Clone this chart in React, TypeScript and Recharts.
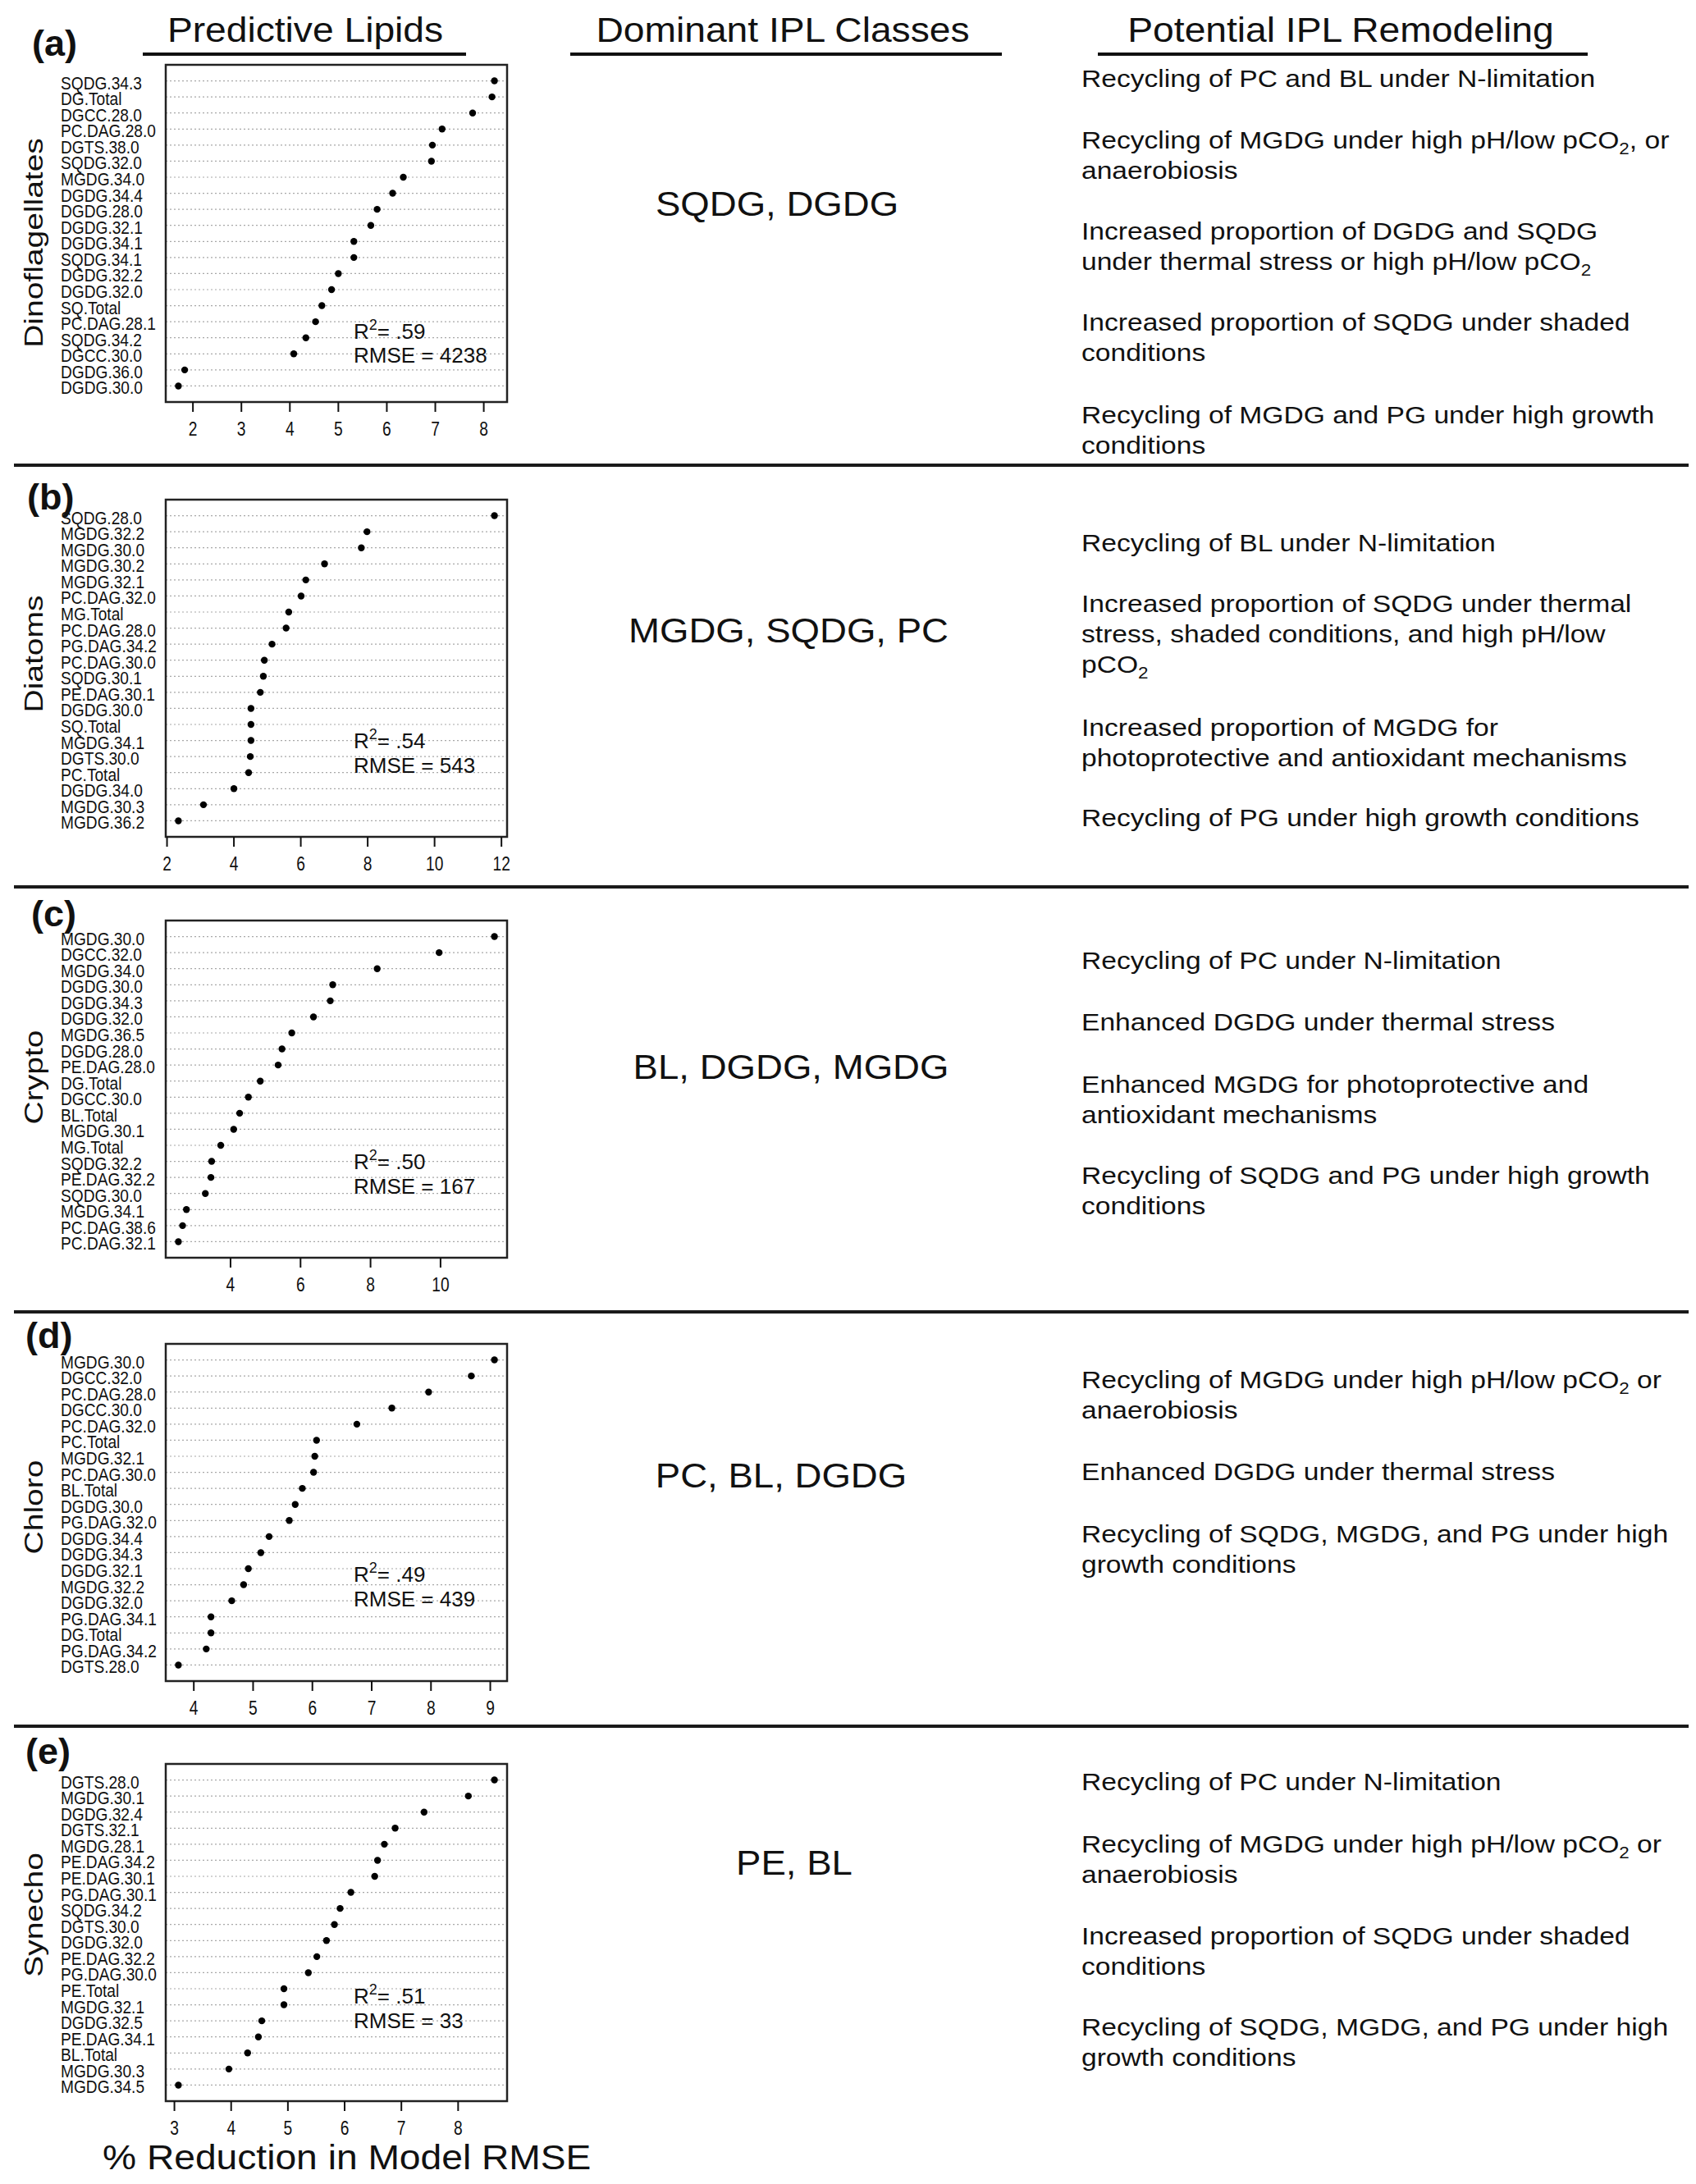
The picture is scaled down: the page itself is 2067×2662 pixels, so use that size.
import React from "react";
import { ScatterChart, Scatter, XAxis, YAxis, CartesianGrid, ReferenceArea } from "recharts";

const FONT = "'Liberation Sans', Arial, Helvetica, sans-serif";

// (a) Dinoflagellates
const DINO_LIPIDS = ["SQDG.34.3", "DG.Total", "DGCC.28.0", "PC.DAG.28.0", "DGTS.38.0", "SQDG.32.0", "MGDG.34.0", "DGDG.34.4", "DGDG.28.0", "DGDG.32.1", "DGDG.34.1", "SQDG.34.1", "DGDG.32.2", "DGDG.32.0", "SQ.Total", "PC.DAG.28.1", "SQDG.34.2", "DGCC.30.0", "DGDG.36.0", "DGDG.30.0"];
const DINO_REDUCTION = [8.22, 8.17, 7.77, 7.14, 6.94, 6.92, 6.34, 6.12, 5.8, 5.67, 5.32, 5.32, 5.0, 4.86, 4.66, 4.53, 4.33, 4.08, 1.83, 1.7];
const DINO_TICKS = [2, 3, 4, 5, 6, 7, 8];
const DINO_CLASSES = "SQDG, DGDG";
const DINO_REMODELING = [
  ["Recycling of PC and BL under N-limitation"],
  ["Recycling of MGDG under high pH/low pCO₂, or", "anaerobiosis"],
  ["Increased proportion of DGDG and SQDG", "under thermal stress or high pH/low pCO₂"],
  ["Increased proportion of SQDG under shaded", "conditions"],
  ["Recycling of MGDG and PG under high growth", "conditions"],
];

// (b) Diatoms
const DIATOM_LIPIDS = ["SQDG.28.0", "MGDG.32.2", "MGDG.30.0", "MGDG.30.2", "MGDG.32.1", "PC.DAG.32.0", "MG.Total", "PC.DAG.28.0", "PG.DAG.34.2", "PC.DAG.30.0", "SQDG.30.1", "PE.DAG.30.1", "DGDG.30.0", "SQ.Total", "MGDG.34.1", "DGTS.30.0", "PC.Total", "DGDG.34.0", "MGDG.30.3", "MGDG.36.2"];
const DIATOM_REDUCTION = [11.79, 7.98, 7.81, 6.71, 6.15, 6.01, 5.64, 5.56, 5.14, 4.91, 4.88, 4.79, 4.51, 4.51, 4.51, 4.49, 4.44, 4.0, 3.09, 2.34];
const DIATOM_TICKS = [2, 4, 6, 8, 10, 12];
const DIATOM_CLASSES = "MGDG, SQDG, PC";
const DIATOM_REMODELING = [
  ["Recycling of BL under N-limitation"],
  ["Increased proportion of SQDG under thermal", "stress, shaded conditions, and high pH/low", "pCO₂"],
  ["Increased proportion of MGDG for", "photoprotective and antioxidant mechanisms"],
  ["Recycling of PG under high growth conditions"],
];

// (c) Crypto
const CRYPTO_LIPIDS = ["MGDG.30.0", "DGCC.32.0", "MGDG.34.0", "DGDG.30.0", "DGDG.34.3", "DGDG.32.0", "MGDG.36.5", "DGDG.28.0", "PE.DAG.28.0", "DG.Total", "DGCC.30.0", "BL.Total", "MGDG.30.1", "MG.Total", "SQDG.32.2", "PE.DAG.32.2", "SQDG.30.0", "MGDG.34.1", "PC.DAG.38.6", "PC.DAG.32.1"];
const CRYPTO_REDUCTION = [11.54, 9.96, 8.19, 6.92, 6.85, 6.37, 5.75, 5.47, 5.36, 4.85, 4.51, 4.26, 4.09, 3.72, 3.46, 3.44, 3.28, 2.74, 2.63, 2.51];
const CRYPTO_TICKS = [4, 6, 8, 10];
const CRYPTO_CLASSES = "BL, DGDG, MGDG";
const CRYPTO_REMODELING = [
  ["Recycling of PC under N-limitation"],
  ["Enhanced DGDG under thermal stress"],
  ["Enhanced MGDG for photoprotective and", "antioxidant mechanisms"],
  ["Recycling of SQDG and PG under high growth", "conditions"],
];

// (d) Chloro
const CHLORO_LIPIDS = ["MGDG.30.0", "DGCC.32.0", "PC.DAG.28.0", "DGCC.30.0", "PC.DAG.32.0", "PC.Total", "MGDG.32.1", "PC.DAG.30.0", "BL.Total", "DGDG.30.0", "PG.DAG.32.0", "DGDG.34.4", "DGDG.34.3", "DGDG.32.1", "MGDG.32.2", "DGDG.32.0", "PG.DAG.34.1", "DG.Total", "PG.DAG.34.2", "DGTS.28.0"];
const CHLORO_REDUCTION = [9.07, 8.68, 7.96, 7.34, 6.75, 6.07, 6.04, 6.02, 5.83, 5.71, 5.61, 5.27, 5.13, 4.92, 4.84, 4.64, 4.29, 4.29, 4.21, 3.74];
const CHLORO_TICKS = [4, 5, 6, 7, 8, 9];
const CHLORO_CLASSES = "PC, BL, DGDG";
const CHLORO_REMODELING = [
  ["Recycling of MGDG under high pH/low pCO₂ or", "anaerobiosis"],
  ["Enhanced DGDG under thermal stress"],
  ["Recycling of SQDG, MGDG, and PG under high", "growth conditions"],
];

// (e) Synecho
const SYNECHO_LIPIDS = ["DGTS.28.0", "MGDG.30.1", "DGDG.32.4", "DGTS.32.1", "MGDG.28.1", "PE.DAG.34.2", "PE.DAG.30.1", "PG.DAG.30.1", "SQDG.34.2", "DGTS.30.0", "DGDG.32.0", "PE.DAG.32.2", "PG.DAG.30.0", "PE.Total", "MGDG.32.1", "DGDG.32.5", "PE.DAG.34.1", "BL.Total", "MGDG.30.3", "MGDG.34.5"];
const SYNECHO_REDUCTION = [8.64, 8.18, 7.4, 6.89, 6.7, 6.58, 6.53, 6.11, 5.92, 5.82, 5.68, 5.51, 5.36, 4.93, 4.93, 4.54, 4.48, 4.29, 3.96, 3.07];
const SYNECHO_TICKS = [3, 4, 5, 6, 7, 8];
const SYNECHO_CLASSES = "PE, BL";
const SYNECHO_REMODELING = [
  ["Recycling of PC under N-limitation"],
  ["Recycling of MGDG under high pH/low pCO₂ or", "anaerobiosis"],
  ["Increased proportion of SQDG under shaded", "conditions"],
  ["Recycling of SQDG, MGDG, and PG under high", "growth conditions"],
];

const PANELS = [
  { tag: "(a)", group: "Dinoflagellates", lipids: DINO_LIPIDS, values: DINO_REDUCTION, ticks: DINO_TICKS, r2: ".59", rmse: "4238", classes: DINO_CLASSES, remodeling: DINO_REMODELING },
  { tag: "(b)", group: "Diatoms", lipids: DIATOM_LIPIDS, values: DIATOM_REDUCTION, ticks: DIATOM_TICKS, r2: ".54", rmse: "543", classes: DIATOM_CLASSES, remodeling: DIATOM_REMODELING },
  { tag: "(c)", group: "Crypto", lipids: CRYPTO_LIPIDS, values: CRYPTO_REDUCTION, ticks: CRYPTO_TICKS, r2: ".50", rmse: "167", classes: CRYPTO_CLASSES, remodeling: CRYPTO_REMODELING },
  { tag: "(d)", group: "Chloro", lipids: CHLORO_LIPIDS, values: CHLORO_REDUCTION, ticks: CHLORO_TICKS, r2: ".49", rmse: "439", classes: CHLORO_CLASSES, remodeling: CHLORO_REMODELING },
  { tag: "(e)", group: "Synecho", lipids: SYNECHO_LIPIDS, values: SYNECHO_REDUCTION, ticks: SYNECHO_TICKS, r2: ".51", rmse: "33", classes: SYNECHO_CLASSES, remodeling: SYNECHO_REMODELING },
];

// page layout (pixels), one entry per panel
const LAYOUT = [
  { boxTop: 79, tag: [39, 68], groupY: 296, stat: [413, 442], classes: [947, 263], blocks: [106, 181, 292, 403, 516] },
  { boxTop: 609, tag: [33, 621], groupY: 797, stat: [912, 942], classes: [961, 783], blocks: [672, 746, 897, 1007] },
  { boxTop: 1122, tag: [38, 1129], groupY: 1313, stat: [1425, 1455], classes: [964, 1315], blocks: [1181, 1256, 1332, 1443] },
  { boxTop: 1638, tag: [31, 1643], groupY: 1837, stat: [1928, 1958], classes: [952, 1813], blocks: [1692, 1804, 1880] },
  { boxTop: 2150, tag: [31, 2150], groupY: 2334, stat: [2442, 2472], classes: [968, 2285], blocks: [2182, 2258, 2370, 2481] },
];
const SEPARATORS = [567, 1081, 1599, 2104];

const BOX_LEFT = 202;
const BOX_W = 416;
const BOX_H = 411;
const CHART_W = 640;

function LipidTick({ y, payload, labels }: any) {
  const label = labels[labels.length - payload.value];
  return (
    <g transform={`translate(74,${y}) scale(0.87,1)`}>
      <text x={0} y={10} textAnchor="start" fontFamily={FONT} fontSize={22} fill="#111">
        {label}
      </text>
    </g>
  );
}

function ValueTick({ x, y, payload }: any) {
  return (
    <g transform={`translate(${x},${y}) scale(0.8,1)`}>
      <text x={0} y={27} textAnchor="middle" fontFamily={FONT} fontSize={24} fill="#111">
        {payload.value}
      </text>
    </g>
  );
}

const Dot = (p: any) => <circle cx={p.cx} cy={p.cy} r={4.2} fill="#000" />;

function LipidPanel({ panel, boxTop }: { panel: any; boxTop: number }) {
  const { lipids, values, ticks } = panel;
  const n = lipids.length;
  const lo = Math.min(...values);
  const hi = Math.max(...values);
  const pad = (hi - lo) * 0.04;
  const domain = [lo - pad, hi + pad];
  const rows = values.map((v: number, i: number) => ({ x: v, y: n - i, name: lipids[i] }));
  const rowTicks = rows.map((r: any) => r.y).reverse();
  return (
    <div style={{ position: "absolute", left: 0, top: boxTop - 10 }}>
      <ScatterChart
        width={CHART_W}
        height={BOX_H + 70}
        margin={{ top: 10, right: CHART_W - BOX_LEFT - BOX_W, bottom: 10, left: BOX_LEFT - 150 }}
      >
        <CartesianGrid vertical={false} stroke="#a8a8a8" strokeDasharray="2 3" strokeWidth={1.2} />
        <XAxis
          type="number"
          dataKey="x"
          domain={domain}
          ticks={ticks}
          interval={0}
          height={50}
          axisLine={false}
          tickSize={12}
          tickLine={{ stroke: "#111", strokeWidth: 2 }}
          tick={<ValueTick />}
        />
        <YAxis
          type="number"
          dataKey="y"
          domain={[0, n + 1]}
          ticks={rowTicks}
          interval={0}
          width={150}
          axisLine={false}
          tickLine={false}
          tick={<LipidTick labels={lipids} />}
        />
        <ReferenceArea x1={domain[0]} x2={domain[1]} y1={0} y2={n + 1} fill="none" fillOpacity={0} stroke="#222" strokeWidth={2.5} />
        <Scatter data={rows} shape={<Dot />} isAnimationActive={false} />
      </ScatterChart>
    </div>
  );
}

function withSub(line: string) {
  const parts = line.split("₂");
  const out: any[] = [];
  parts.forEach((p, i) => {
    if (i === 0) out.push(p);
    else {
      out.push(<tspan key={`s${i}`} dy={7} fontSize={20}>2</tspan>);
      out.push(<tspan key={`r${i}`} dy={-7}>{p}</tspan>);
    }
  });
  return out;
}

function Overlay() {
  return (
    <svg width={2067} height={2662} style={{ position: "absolute", left: 0, top: 0, pointerEvents: "none" }} fontFamily={FONT}>
      {/* column headers */}
      {[
        ["Predictive Lipids", 372, 174, 568],
        ["Dominant IPL Classes", 954, 695, 1221],
        ["Potential IPL Remodeling", 1634, 1338, 1935],
      ].map(([t, cx, x1, x2]: any) => (
        <g key={t}>
          <g transform={`translate(${cx},51) scale(1.1,1)`}>
            <text textAnchor="middle" fontSize={42} fill="#111">{t}</text>
          </g>
          <line x1={x1} x2={x2} y1={66} y2={66} stroke="#111" strokeWidth={4} />
        </g>
      ))}

      {SEPARATORS.map((y) => (
        <line key={y} x1={17} x2={2058} y1={y} y2={y} stroke="#1a1a1a" strokeWidth={4} />
      ))}

      {PANELS.map((p, k) => {
        const L = LAYOUT[k];
        return (
          <g key={p.tag}>
            <text x={L.tag[0]} y={L.tag[1]} fontSize={45} fontWeight="bold" fill="#111">{p.tag}</text>
            <g transform={`translate(52,${L.groupY}) scale(0.8,1) rotate(-90)`}>
              <text textAnchor="middle" fontSize={39} fill="#111">{p.group}</text>
            </g>
            <text x={431} y={L.stat[0]} fontSize={26} fill="#111">
              R<tspan dy={-11} fontSize={18}>2</tspan><tspan dy={11}>= {p.r2}</tspan>
            </text>
            <text x={431} y={L.stat[1]} fontSize={26} fill="#111">RMSE = {p.rmse}</text>
            <g transform={`translate(${L.classes[0]},${L.classes[1]}) scale(1.06,1)`}>
              <text textAnchor="middle" fontSize={43} fill="#111">{p.classes}</text>
            </g>
            {p.remodeling.map((block: string[], b: number) =>
              block.map((line, j) => (
                <g key={`${b}-${j}`} transform={`translate(1318,${L.blocks[b] + j * 37}) scale(1.12,1)`}>
                  <text fontSize={30} fill="#111">{withSub(line)}</text>
                </g>
              ))
            )}
          </g>
        );
      })}

      <g transform="translate(125,2644) scale(1.1,1)">
        <text fontSize={42} fill="#111">% Reduction in Model RMSE</text>
      </g>
    </svg>
  );
}

export default function App() {
  return (
    <div style={{ position: "absolute", left: 0, top: 0, width: 2067, height: 2662, background: "#fff", fontFamily: FONT }}>
      {PANELS.map((p, k) => (
        <LipidPanel key={p.tag} panel={p} boxTop={LAYOUT[k].boxTop} />
      ))}
      <Overlay />
    </div>
  );
}
